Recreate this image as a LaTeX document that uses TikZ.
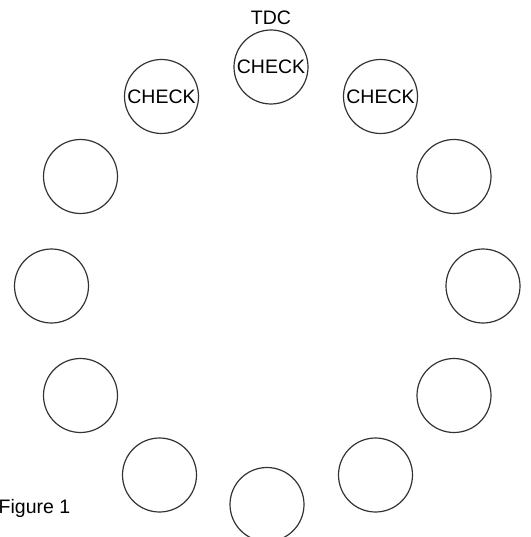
\documentclass[tikz,border=0pt]{standalone}
\usepackage{fontspec}
\setmainfont{Liberation Sans}
\begin{document}
\begin{tikzpicture}[x=1pt,y=-1pt,
  hole/.style={draw=black!80, line width=1.2pt, circle, minimum size=74pt, inner sep=0pt, font=\fontsize{19.5}{21}\selectfont},
  lbl/.style={inner sep=0pt, font=\fontsize{19.5}{21}\selectfont}]
  \useasboundingbox (0,0) rectangle (530,537);
  \clip (0,0) rectangle (530,537);
  % twelve holes around the ring
  \node[hole] (p12) at (271,67) {CHECK};
  \node[hole] (p11) at (161.5,96.5) {CHECK};
  \node[hole] (p1)  at (380.5,96.5) {CHECK};
  \node[hole] (p10) at (80.5,176.5) {};
  \node[hole] (p2)  at (454,176.5) {};
  \node[hole] (p9)  at (51.5,286) {};
  \node[hole] (p3)  at (483,286) {};
  \node[hole] (p8)  at (80.5,395.5) {};
  \node[hole] (p4)  at (454,395.5) {};
  \node[hole] (p7)  at (159.5,475) {};
  \node[hole] (p5)  at (375.5,475) {};
  \node[hole] (p6)  at (267,504.5) {};
  % labels
  \node[lbl, anchor=base] (tdc) at (271,25) {TDC};
  \node[lbl, anchor=base west] (fig) at (-1.5,513) {Figure 1};
\end{tikzpicture}
\end{document}
